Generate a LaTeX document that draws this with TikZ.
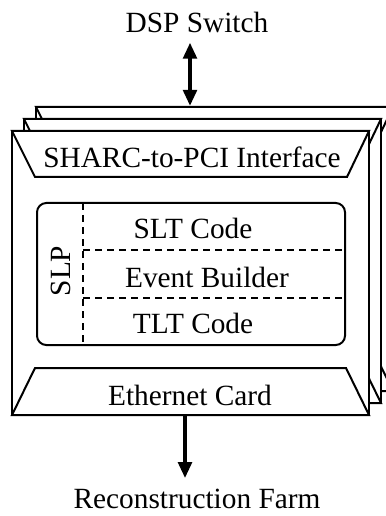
\documentclass[tikz,border=0pt]{standalone}
\usepackage{fontspec}
\setmainfont{Liberation Serif}
\usetikzlibrary{arrows.meta}
\tikzset{
  boardline/.style={line width=1.5pt,fill=white,line join=miter},
  label/.style={font=\fontsize{22}{26}\selectfont,inner sep=0pt},
  layer/.style={line width=1.5pt,dash pattern=on 5.5pt off 3.5pt},
  bus/.style={line width=3pt,-{Triangle[length=12pt,width=10pt]}},
}
% one DSP board, shifted by #1
\newcommand{\dspboard}[1]{%
  \begin{scope}[shift={#1}]
    \draw[boardline] (12,131) rectangle (369,415);
    \draw[boardline] (12,131) -- (369,131) -- (347,177) -- (35,177) -- cycle;
    \draw[boardline] (35,368) -- (346,368) -- (369,415) -- (12,415) -- cycle;
  \end{scope}}

\begin{document}
\begin{tikzpicture}[x=0.75pt,y=-0.75pt]
	\useasboundingbox (0,0) rectangle (385,516);
	%
	\dspboard{(24,-24)}
	\dspboard{(12,-12)}
	\dspboard{(0,0)}
	%
	\draw[line width=1.5pt,rounded corners=7pt] (37,203) rectangle (345,345);
	\draw[layer] (83,203) -- (83,345);
	\draw[layer] (83,250) -- (345,250);
	\draw[layer] (83,298) -- (345,298);
	%
	\node[label] (dsp) at (197,22) {DSP Switch};
	\node[label] (sharc) at (192,157) {SHARC-to-PCI Interface};
	\node[label,rotate=90] (slp) at (61,271) {SLP};
	\node[label] (slt) at (193,228) {SLT Code};
	\node[label] (evb) at (207,277) {Event Builder};
	\node[label] (tlt) at (193,323) {TLT Code};
	\node[label] (eth) at (190,395) {Ethernet Card};
	\node[label] (farm) at (197,499) {Reconstruction Farm};
	%
	\coordinate (top) at (190,106);
	\coordinate (out) at (185,415);
	\draw[bus,{Triangle[length=12pt,width=10pt]}-{Triangle[length=12pt,width=10pt]}] (dsp.south -| top) ++(0,10) -- (top);
	\draw[bus] (out) -- ([yshift=8pt]farm.north -| out);
\end{tikzpicture}
\end{document}
